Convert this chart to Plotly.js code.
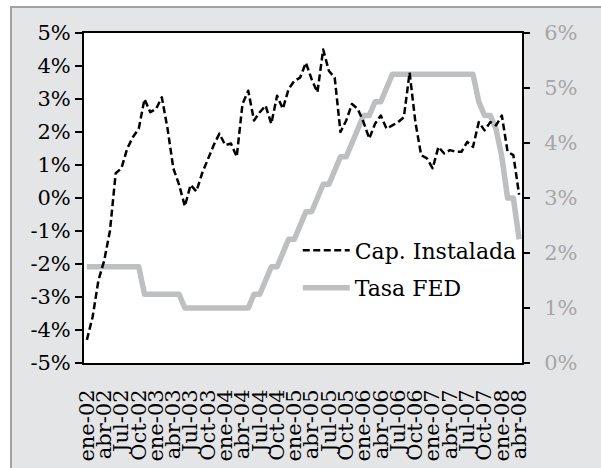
<!DOCTYPE html>
<html><head><meta charset="utf-8">
<script src="https://cdn.plot.ly/plotly-3.0.1.min.js"></script>
<style>
html,body{margin:0;padding:0;background:#ffffff;}
#frame{position:absolute;left:10px;top:6px;width:591px;height:462px;background:#e4e5e7;border-left:2px solid #a2a2a2;border-top:2px solid #a2a2a2;box-sizing:border-box;}
#chart{position:absolute;left:12px;top:8px;width:589px;height:460px;}
.scatterlayer .js-line{stroke-linejoin:round;}
</style></head><body>
<div id="frame"></div><div id="chart"></div>
<script>
const months = [
  "ene-02","feb-02","mar-02","abr-02","may-02","jun-02","Jul-02","ago-02","sep-02","Oct-02","nov-02","dic-02",
  "ene-03","feb-03","mar-03","abr-03","may-03","jun-03","Jul-03","ago-03","sep-03","Oct-03","nov-03","dic-03",
  "ene-04","feb-04","mar-04","abr-04","may-04","jun-04","Jul-04","ago-04","sep-04","Oct-04","nov-04","dic-04",
  "ene-05","feb-05","mar-05","abr-05","may-05","jun-05","Jul-05","ago-05","sep-05","Oct-05","nov-05","dic-05",
  "ene-06","feb-06","mar-06","abr-06","may-06","jun-06","Jul-06","ago-06","sep-06","Oct-06","nov-06","dic-06",
  "ene-07","feb-07","mar-07","abr-07","may-07","jun-07","Jul-07","ago-07","sep-07","Oct-07","nov-07","dic-07",
  "ene-08","feb-08","mar-08","abr-08"
];
const capInstalada = [
  -4.3, -3.6, -2.5, -1.9, -1.0, 0.75, 0.9, 1.5, 1.85, 2.1, 3.0, 2.6,
  2.7, 3.05, 2.1, 0.9, 0.4, -0.25, 0.4, 0.2, 0.75, 1.2, 1.6, 1.95,
  1.6, 1.65, 1.25, 2.85, 3.25, 2.35, 2.6, 2.8, 2.25, 3.1, 2.7, 3.3,
  3.55, 3.65, 4.1, 3.6, 3.2, 4.5, 3.85, 3.65, 2.0, 2.35, 2.85, 2.7,
  2.3, 1.8, 2.25, 2.5, 2.1, 2.2, 2.3, 2.45, 3.8, 2.3, 1.3, 1.2,
  0.9, 1.55, 1.35, 1.45, 1.4, 1.4, 1.7, 1.55, 2.3, 2.05, 2.3, 2.2,
  2.5, 1.4, 1.3, 0.1
];
const tasaFed = [
  1.75, 1.75, 1.75, 1.75, 1.75, 1.75, 1.75, 1.75, 1.75, 1.75, 1.25, 1.25,
  1.25, 1.25, 1.25, 1.25, 1.25, 1.0, 1.0, 1.0, 1.0, 1.0, 1.0, 1.0,
  1.0, 1.0, 1.0, 1.0, 1.0, 1.25, 1.25, 1.5, 1.75, 1.75, 2.0, 2.25,
  2.25, 2.5, 2.75, 2.75, 3.0, 3.25, 3.25, 3.5, 3.75, 3.75, 4.0, 4.25,
  4.5, 4.5, 4.75, 4.75, 5.0, 5.25, 5.25, 5.25, 5.25, 5.25, 5.25, 5.25,
  5.25, 5.25, 5.25, 5.25, 5.25, 5.25, 5.25, 5.25, 4.75, 4.5, 4.5, 4.25,
  3.75, 3.0, 3.0, 2.25
];
const tickLabels = [
  "ene-02","abr-02","Jul-02","Oct-02","ene-03","abr-03","Jul-03","Oct-03",
  "ene-04","abr-04","Jul-04","Oct-04","ene-05","abr-05","Jul-05","Oct-05",
  "ene-06","abr-06","Jul-06","Oct-06","ene-07","abr-07","Jul-07","Oct-07",
  "ene-08","abr-08"
];
const leftTicks = [-5, -4, -3, -2, -1, 0, 1, 2, 3, 4, 5];
const leftTickText = ["-5%","-4%","-3%","-2%","-1%","0%","1%","2%","3%","4%","5%"];
const rightTicks = [0, 1, 2, 3, 4, 5, 6];
const rightTickText = ["0%","1%","2%","3%","4%","5%","6%"];

const F = "DejaVu Serif, serif";

const traces = [
  {x: months, y: tasaFed, name: "Tasa FED", type: "scatter", mode: "lines",
   xaxis: "x", yaxis: "y", line: {color: "#bebfc1", width: 5.5},
   legendgroup: "b", legendrank: 2, hoverinfo: "skip"},
  {x: months, y: capInstalada, name: "Cap. Instalada", type: "scatter", mode: "lines",
   xaxis: "x", yaxis: "y2", line: {color: "#000000", width: 2.5, dash: "7px,3.5px"},
   legendgroup: "a", legendrank: 1, hoverinfo: "skip"}
];

const layout = {
  width: 589, height: 460,
  margin: {l: 72, r: 79, t: 25, b: 105, pad: 0},
  paper_bgcolor: "#e4e5e7", plot_bgcolor: "#ffffff",
  showlegend: true,
  font: {family: F, color: "#000000"},
  xaxis: {type: "category", categoryorder: "array", categoryarray: months,
    range: [-0.5, months.length - 0.5], tickmode: "array", tickvals: tickLabels, ticktext: tickLabels,
    tickangle: -90, ticks: "", showline: true, mirror: true, linecolor: "#000000", linewidth: 2,
    showgrid: false, zeroline: false, tickfont: {family: F, size: 21, color: "#000000"},
    ticklabelstandoff: 16},
  xaxis2: {overlaying: "x", anchor: "free", position: 0.5, type: "linear",
    range: [-0.5, months.length - 0.5], tickmode: "linear", tick0: -0.5, dtick: 3,
    ticks: "outside", ticklen: 5, tickwidth: 1.5, tickcolor: "#000000",
    showline: true, linecolor: "#000000", linewidth: 2, showticklabels: false,
    showgrid: false, zeroline: false},
  yaxis: {side: "right", range: [0, 6], tickmode: "array", tickvals: rightTicks, ticktext: rightTickText,
    ticks: "outside", ticklen: 6, tickwidth: 1.5, tickcolor: "#000000",
    showline: true, linecolor: "#000000", linewidth: 2, showgrid: false, zeroline: false,
    tickfont: {family: F, size: 21, color: "#a6a6a6"}, ticklabelstandoff: 10},
  yaxis2: {overlaying: "y", side: "left", range: [-5, 5], tickmode: "array", tickvals: leftTicks, ticktext: leftTickText,
    ticks: "outside", ticklen: 7, tickwidth: 1.5, tickcolor: "#000000",
    showline: true, linecolor: "#000000", linewidth: 2, showgrid: false, zeroline: false,
    tickfont: {family: F, size: 21, color: "#000000"}, ticklabelstandoff: 0},
  legend: {x: 0.488, xanchor: "left", y: 0.405, yanchor: "top", bgcolor: "rgba(0,0,0,0)",
    font: {family: F, size: 22, color: "#000000"}, itemwidth: 47, tracegroupgap: 6,
    traceorder: "grouped"}
};

Plotly.newPlot("chart", traces, layout, {staticPlot: true, displayModeBar: false});
</script>
</body></html>
